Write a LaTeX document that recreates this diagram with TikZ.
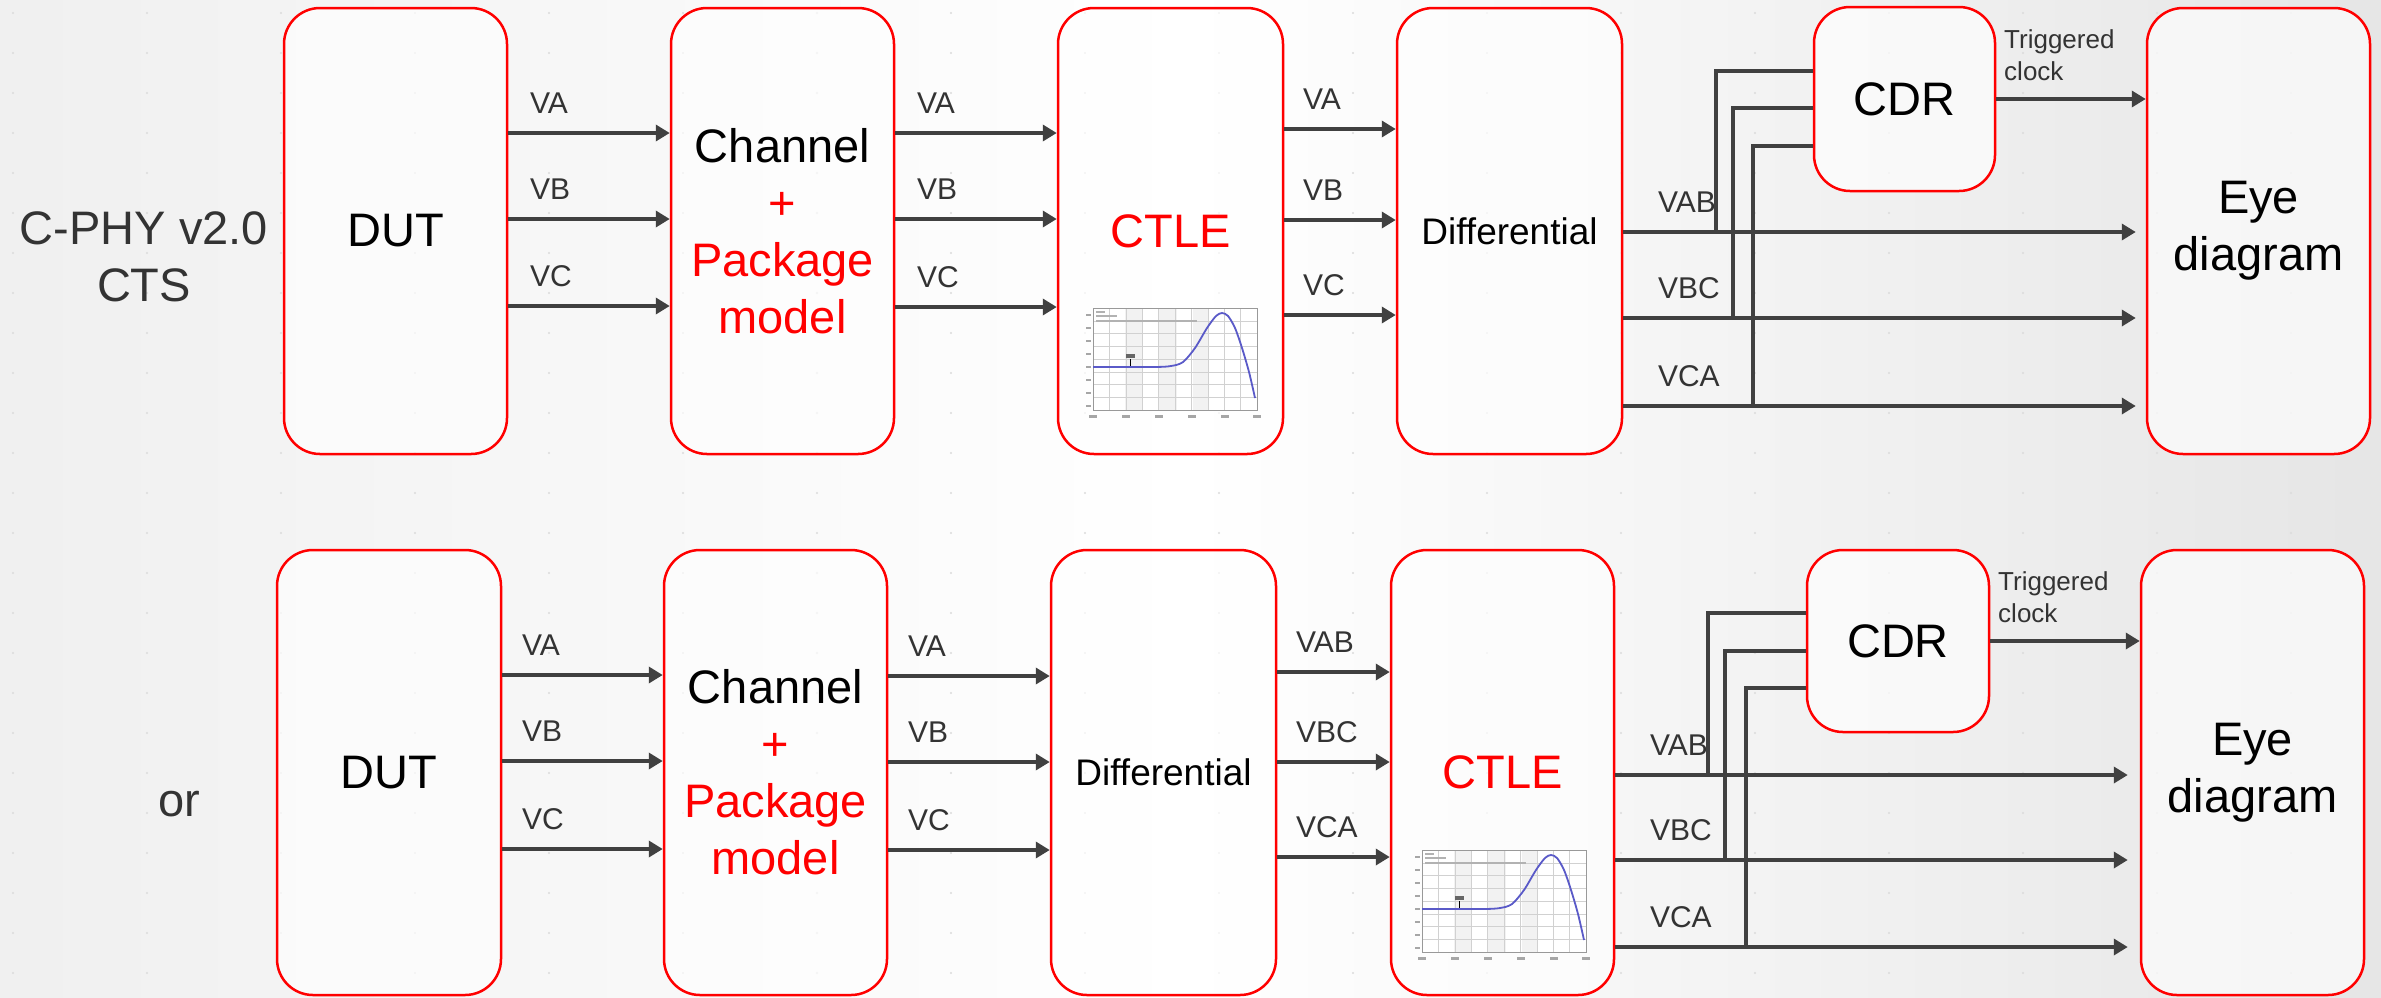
\documentclass[tikz,border=0pt]{standalone}
\usepackage{fontspec}
\setmainfont{Liberation Sans}
\usetikzlibrary{arrows.meta}
\definecolor{wire}{HTML}{404040}
\definecolor{boxred}{HTML}{FF0000}
\definecolor{txtgrey}{HTML}{333333}
\definecolor{curvecol}{HTML}{5A5AC8}
\tikzset{
  blk/.style={draw=boxred, line width=2.5pt, rounded corners=36pt, fill=white, fill opacity=0.65, text opacity=1,
    font=\fontsize{47}{57}\selectfont, align=center, inner sep=0pt},
  sig/.style={draw=wire, line width=3.5pt, -{Triangle[length=14pt,width=16pt]}},
  feed/.style={draw=wire, line width=3.5pt},
  lbl/.style={text=txtgrey, font=\fontsize{30}{36}\selectfont, inner sep=0pt},
  side/.style={text=txtgrey, font=\fontsize{47}{57}\selectfont, align=center, inner sep=0pt},
  trig/.style={text=txtgrey, font=\fontsize{26}{32}\selectfont, align=left, inner sep=0pt, anchor=west},
}
% #1 options, #2 from, #3 to, #4 y, #5 label, #6 xshift, #7 label name
\newcommand\sigline[7][]{%
  \draw[sig,#1] (#2.east |- 0,#4) -- node[lbl, pos=0, anchor=west, xshift=#6, yshift=30pt] (#7) {#5} (#3.west |- 0,#4);}
\newcommand\ctleplot[1]{%
\begin{scope}[shift={(#1)}]
  \fill[white] (0,0) rectangle (164,102);
  \fill[black!5] (32,0) rectangle (50,102);
  \fill[black!5] (66,0) rectangle (84,102);
  \fill[black!5] (100,0) rectangle (116,102);
  \foreach \x in {0,16.4,...,160} \draw[black!18, line width=0.5pt] (\x,0) -- (\x,102);
  \foreach \y in {0,12.75,...,100} \draw[black!18, line width=0.5pt] (0,\y) -- (164,\y);
  \draw[black!40, line width=0.6pt] (0,0) rectangle (164,102);
  \fill[black!30] (3,2.5) rectangle (12,4.5);
  \fill[black!30] (3,7) rectangle (24,9);
  \fill[black!30] (3,11.5) rectangle (104,13.5);
  \foreach \x in {0,33,66,99,132,164} \fill[black!35] (\x-4,107) rectangle (\x+4,110);
  \foreach \y in {6,19,...,100} \fill[black!35] (-7,\y) rectangle (-2,\y+1.5);
  \draw[curvecol, line width=1.8pt] plot[smooth] coordinates {(0,59) (60,59) (78,58) (90,54) (102,40) (114,20) (123,8) (129,5) (135,8) (142,20) (149,40) (156,64) (162,90)};
  \fill[black!60] (33,46) rectangle (42,50);
  \draw[black, line width=0.8pt] (37,51) -- (37,58);
\end{scope}}
\begin{document}
\begin{tikzpicture}[x=1pt,y=-1pt]
\useasboundingbox (0,0) rectangle (2381,997);
\shade[left color=black!6, right color=black!10, middle color=white] (0,0) rectangle (2381,997);
\foreach \i in {0,...,17} \foreach \j in {0,...,24} \fill[black!14] ({13+134*\i},{13+40*\j}) circle (1.2pt);

% side labels
\node[side] (cphy) at (144,257) {C-PHY v2.0\\CTS};
\node[side] (orlbl) at (179,804) {or};

% top row
\node[blk, minimum width=223pt, minimum height=446pt] (dut1) at (395.5,231) {DUT};
\node[blk, minimum width=223pt, minimum height=446pt] (ch1) at (782.5,231) {Channel\\\textcolor{boxred}{+}\\\textcolor{boxred}{Package}\\\textcolor{boxred}{model}};
\node[blk, minimum width=225pt, minimum height=446pt] (ctle1) at (1170.5,231) {\textcolor{boxred}{CTLE}};
\node[blk, minimum width=225pt, minimum height=446pt, font=\fontsize{37}{44}\selectfont] (diff1) at (1509.5,231) {Differential};
\node[blk, minimum width=181pt, minimum height=184pt] (cdr1) at (1904.5,99) {CDR};
\node[blk, minimum width=223pt, minimum height=446pt] (eye1) at (2258.5,231) {Eye\\diagram};
\ctleplot{1093,308}

% bottom row
\node[blk, minimum width=224pt, minimum height=445pt] (dut2) at (389,772.5) {DUT};
\node[blk, minimum width=223pt, minimum height=445pt] (ch2) at (775.5,772.5) {Channel\\\textcolor{boxred}{+}\\\textcolor{boxred}{Package}\\\textcolor{boxred}{model}};
\node[blk, minimum width=225pt, minimum height=445pt, font=\fontsize{37}{44}\selectfont] (diff2) at (1163.5,772.5) {Differential};
\node[blk, minimum width=223pt, minimum height=445pt] (ctle2) at (1502.5,772.5) {\textcolor{boxred}{CTLE}};
\node[blk, minimum width=182pt, minimum height=182pt] (cdr2) at (1898,641) {CDR};
\node[blk, minimum width=223pt, minimum height=445pt] (eye2) at (2252.5,772.5) {Eye\\diagram};
\ctleplot{1422,850}

% top row signals
\sigline{dut1}{ch1}{133}{VA}{20pt}{ta1}
\sigline{dut1}{ch1}{219}{VB}{20pt}{ta2}
\sigline{dut1}{ch1}{306}{VC}{20pt}{ta3}
\sigline{ch1}{ctle1}{133}{VA}{20pt}{tb1}
\sigline{ch1}{ctle1}{219}{VB}{20pt}{tb2}
\sigline{ch1}{ctle1}{307}{VC}{20pt}{tb3}
\sigline{ctle1}{diff1}{129}{VA}{17pt}{tc1}
\sigline{ctle1}{diff1}{220}{VB}{17pt}{tc2}
\sigline{ctle1}{diff1}{315}{VC}{17pt}{tc3}
\sigline[shorten >=10pt]{diff1}{eye1}{232}{VAB}{33pt}{td1}
\sigline[shorten >=10pt]{diff1}{eye1}{318}{VBC}{33pt}{td2}
\sigline[shorten >=10pt]{diff1}{eye1}{406}{VCA}{33pt}{td3}
\coordinate (tj1) at (1716,232);
\coordinate (tj2) at (1733,318);
\coordinate (tj3) at (1753,406);
\draw[feed] (cdr1.west |- 0,71) -| (tj1);
\draw[feed] (cdr1.west |- 0,108) -| (tj2);
\draw[feed] (cdr1.west |- 0,146) -| (tj3);
\draw[sig] (cdr1.east) -- (eye1.west |- cdr1.east);
\node[trig] (trig1) at (2004,55) {Triggered\\clock};

% bottom row signals
\sigline{dut2}{ch2}{675}{VA}{18pt}{ba1}
\sigline{dut2}{ch2}{761}{VB}{18pt}{ba2}
\sigline{dut2}{ch2}{849}{VC}{18pt}{ba3}
\sigline{ch2}{diff2}{676}{VA}{18pt}{bb1}
\sigline{ch2}{diff2}{762}{VB}{18pt}{bb2}
\sigline{ch2}{diff2}{850}{VC}{18pt}{bb3}
\sigline{diff2}{ctle2}{672}{VAB}{17pt}{bc1}
\sigline{diff2}{ctle2}{762}{VBC}{17pt}{bc2}
\sigline{diff2}{ctle2}{857}{VCA}{17pt}{bc3}
\sigline[shorten >=12pt]{ctle2}{eye2}{775}{VAB}{33pt}{bd1}
\sigline[shorten >=12pt]{ctle2}{eye2}{860}{VBC}{33pt}{bd2}
\sigline[shorten >=12pt]{ctle2}{eye2}{947}{VCA}{33pt}{bd3}
\coordinate (bj1) at (1708,775);
\coordinate (bj2) at (1725,860);
\coordinate (bj3) at (1746,947);
\draw[feed] (cdr2.west |- 0,613) -| (bj1);
\draw[feed] (cdr2.west |- 0,651) -| (bj2);
\draw[feed] (cdr2.west |- 0,688) -| (bj3);
\draw[sig] (cdr2.east) -- (eye2.west |- cdr2.east);
\node[trig] (trig2) at (1998,597) {Triggered\\clock};
\end{tikzpicture}
\end{document}
